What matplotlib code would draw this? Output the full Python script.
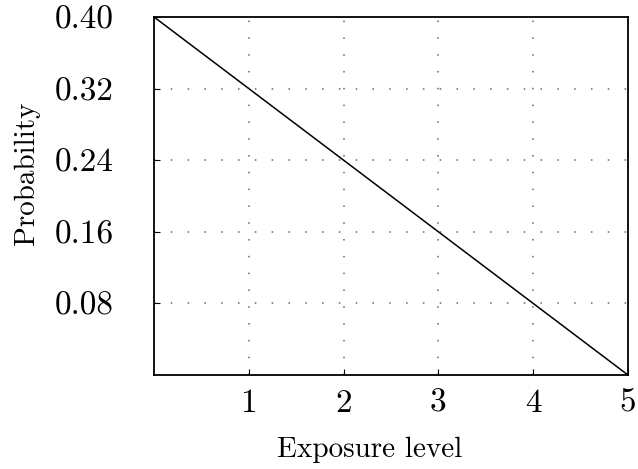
import matplotlib
matplotlib.use('Agg')
from matplotlib import pyplot as plt

# exposure level vs probability
exposure = [0, 5]
probability = [0.40, 0.0]
x_ticks = [1, 2, 3, 4, 5]
y_ticks = [0.08, 0.16, 0.24, 0.32, 0.40]
y_labels = ['0.08', '0.16', '0.24', '0.32', '0.40']

plt.rcParams['font.family'] = ['cmr10', 'DejaVu Serif']
plt.rcParams['axes.formatter.use_mathtext'] = True

fig = plt.figure(figsize=(6.38, 4.69), dpi=100)
ax = fig.add_axes([0.2414, 0.2004, 0.7429, 0.7634])

ax.plot(exposure, probability, c='black', lw=1.1)

ax.set_xlim(0, 5)
ax.set_ylim(0, 0.40)
ax.set_xticks(x_ticks)
ax.set_xticklabels([str(t) for t in x_ticks])
ax.set_yticks(y_ticks)
ax.set_yticklabels(y_labels)

ax.grid(True, color='#666666', linestyle=(0, (1, 10)), lw=1.1)
ax.tick_params(axis='both', direction='in', length=4, width=0.8, labelsize=24)
ax.tick_params(axis='x', pad=10)
ax.tick_params(axis='y', pad=29)
for s in ax.spines.values():
    s.set_linewidth(1.3)

ax.set_xlabel('Exposure level', fontsize=21)
ax.set_ylabel('Probability', fontsize=21)
ax.xaxis.set_label_coords(0.456, -0.172)
ax.yaxis.set_label_coords(-0.24, 0.564)

fig.savefig('out.png', dpi=100)
